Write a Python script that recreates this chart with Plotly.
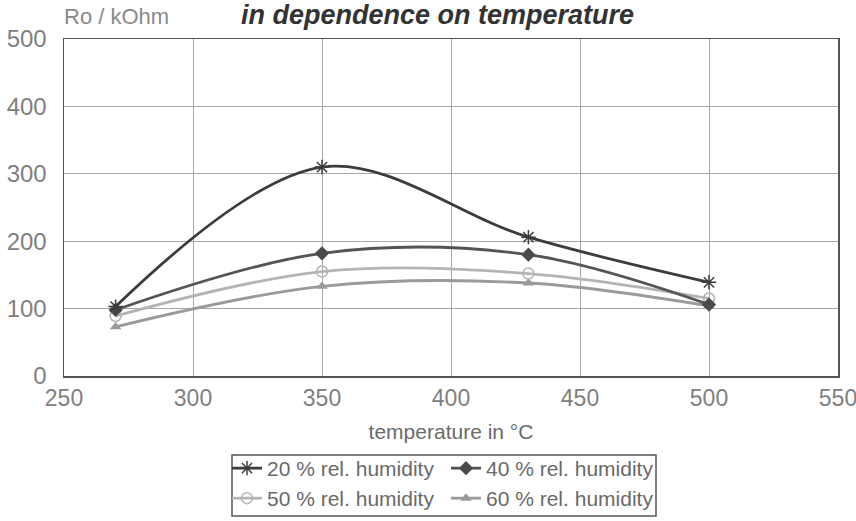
import plotly.graph_objects as go

temps = [270, 350, 430, 500]
h20 = [103, 310, 206, 139]
h40 = [98, 182, 180, 106]
h50 = [89, 155, 152, 115]
h60 = [73, 133, 138, 104]

names = ["20 % rel. humidity", "40 % rel. humidity", "50 % rel. humidity", "60 % rel. humidity"]
x_ticks = [250, 300, 350, 400, 450, 500, 550]
y_ticks = [0, 100, 200, 300, 400, 500]

FONT = "Liberation Sans, Arial, sans-serif"
W, H = 856, 521
L, R, T, B = 64, 18, 39, 145
PW, PH = W - L - R, H - T - B


def px_x(p):
    return (p - L) / PW


def px_y(q):
    return (H - B - q) / PH


def cx(p):
    return p / W


def cy(q):
    return 1 - q / H


fig = go.Figure()
styles = [
    (h20, "#3c3c3c", 2.8, dict(symbol="asterisk-open", size=12, color="#3c3c3c", line=dict(width=1.5, color="#3c3c3c")), "legend"),
    (h40, "#555555", 2.8, dict(symbol="diamond", size=11, color="#4a4a4a"), "legend"),
    (h50, "#b4b4b4", 2.8, dict(symbol="circle-open", size=11, color="#b4b4b4", line=dict(width=1.5, color="#b4b4b4")), "legend2"),
    (h60, "#9a9a9a", 2.8, dict(symbol="triangle-up", size=10, color="#9a9a9a"), "legend2"),
]
order = [3, 2, 1, 0]
for i in order:
    ys, col, w, mk, lg = styles[i]
    fig.add_trace(go.Scatter(
        x=temps, y=ys, name=names[i], mode="lines+markers",
        line=dict(color=col, width=w, shape="spline", smoothing=1.0),
        marker=mk, legend=lg, legendrank=i,
    ))

legend_common = dict(
    orientation="h", xref="container", yref="container", xanchor="left", yanchor="top",
    entrywidth=174, entrywidthmode="pixels", bgcolor="rgba(0,0,0,0)",
    font=dict(size=21, color="#6a6a6a"), traceorder="normal",
)

fig.update_layout(
    width=W, height=H, autosize=False,
    margin=dict(l=L, r=R, t=T, b=B, autoexpand=False),
    paper_bgcolor="white", plot_bgcolor="white",
    hovermode=False,
    font=dict(family=FONT, size=21, color="#7a7a7a"),
    xaxis=dict(
        range=[250, 550], tickvals=x_ticks, ticktext=[str(v) for v in x_ticks],
        showgrid=True, gridcolor="#a8a8a8", gridwidth=1,
        showline=True, mirror=True, linecolor="#555555", linewidth=1.5,
        zeroline=False, ticks="", ticklabelstandoff=1, automargin=False,
        ticklabeloverflow="allow",
        tickfont=dict(size=23, color="#808080"),
        title=dict(text="temperature in °C", font=dict(size=21, color="#6a6a6a"), standoff=14),
    ),
    yaxis=dict(
        range=[0, 500], tickvals=y_ticks, ticktext=[str(v) for v in y_ticks],
        showgrid=True, gridcolor="#a8a8a8", gridwidth=1,
        showline=True, mirror=True, linecolor="#555555", linewidth=1.5,
        zeroline=False, ticks="", ticklabelstandoff=11, automargin=False,
        tickfont=dict(size=24, color="#808080"),
    ),
    legend=dict(x=cx(227), y=cy(448), **legend_common),
    legend2=dict(x=cx(227), y=cy(478), **legend_common),
    showlegend=True,
)

fig.add_shape(type="rect", xref="paper", yref="paper",
              x0=px_x(232), x1=px_x(656), y0=px_y(516), y1=px_y(455),
              line=dict(color="#555555", width=1.5), fillcolor="rgba(0,0,0,0)")

fig.add_annotation(text="<b><i>in dependence on temperature</i></b>", xref="paper", yref="paper",
                   x=px_x(437), y=px_y(15), xanchor="center", yanchor="middle", showarrow=False,
                   font=dict(size=27, color="#333333", family=FONT))
fig.add_annotation(text="Ro / kOhm", xref="paper", yref="paper",
                   x=px_x(62), y=px_y(17), xanchor="left", yanchor="middle", showarrow=False,
                   font=dict(size=22, color="#8a8a8a", family=FONT))

fig.write_html("out.html",
               config={"displayModeBar": False, "staticPlot": True},
               post_script="document.body.style.margin='0';document.body.style.overflow='hidden';")
